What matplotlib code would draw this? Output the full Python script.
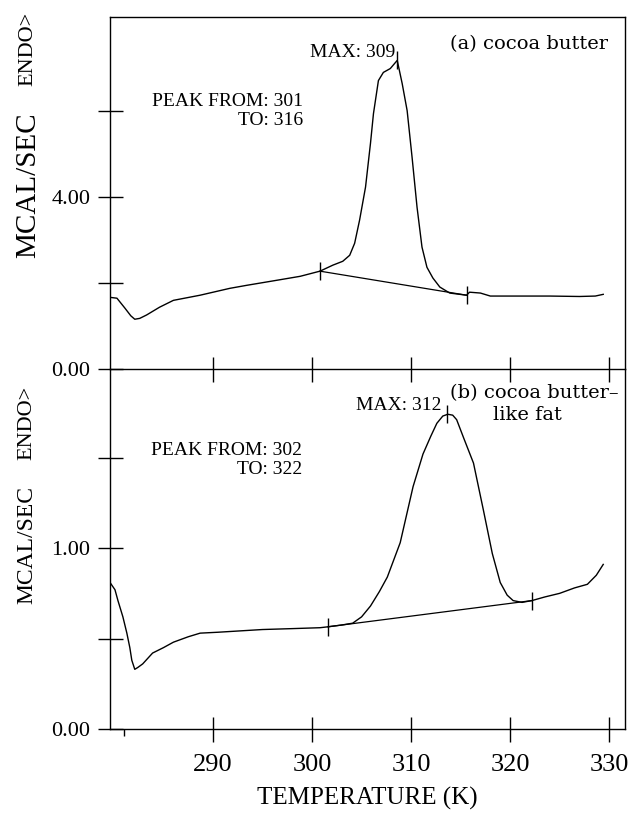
import numpy as np
import matplotlib
matplotlib.use('Agg')
import matplotlib.pyplot as plt

# (a) cocoa butter, DSC trace
temp_a = [279.6, 280.3, 281.1, 281.7, 282.1, 282.6, 283.3, 284.6, 286.0, 288.7,
          291.7, 293.4, 296.5, 298.8, 300.8, 302.1, 303.1, 303.8, 304.3, 304.8,
          305.4, 305.9, 306.2, 306.7, 307.2, 307.9, 308.6, 309.1, 309.6, 310.1,
          310.6, 311.1, 311.6, 312.2, 312.9, 313.9, 315.6, 315.9, 317.0, 318.0,
          321.0, 324.0, 327.0, 328.6, 329.4]
heat_a = [1.67, 1.65, 1.42, 1.24, 1.16, 1.18, 1.26, 1.44, 1.60, 1.72,
          1.88, 1.95, 2.07, 2.16, 2.28, 2.42, 2.51, 2.65, 2.93, 3.47,
          4.24, 5.26, 5.95, 6.72, 6.91, 7.00, 7.19, 6.65, 6.02, 4.93,
          3.77, 2.84, 2.37, 2.12, 1.91, 1.77, 1.72, 1.79, 1.77, 1.70,
          1.70, 1.70, 1.69, 1.70, 1.74]
peak_a = (300.8, 2.28, 315.6, 1.72)   # baseline start T, y, end T, y
max_a = (308.6, 7.19)

# (b) cocoa butter-like fat
temp_b = [279.6, 280.1, 280.4, 280.9, 281.3, 281.6, 281.8, 282.1, 282.4, 282.9,
          283.9, 285.0, 286.0, 287.5, 288.7, 290.5, 292.0, 295.0, 298.0, 300.8,
          301.6, 303.0, 304.1, 305.0, 305.9, 306.8, 307.6, 308.9, 310.2, 311.2,
          312.0, 312.6, 313.2, 313.7, 314.2, 314.6, 315.3, 316.3, 317.3, 318.2,
          319.0, 319.7, 320.3, 321.2, 322.2, 323.5, 325.0, 326.5, 327.8, 328.7,
          329.4]
heat_b = [0.81, 0.77, 0.71, 0.62, 0.53, 0.45, 0.38, 0.33, 0.34, 0.36,
          0.42, 0.45, 0.48, 0.51, 0.53, 0.535, 0.54, 0.55, 0.555, 0.56,
          0.565, 0.575, 0.585, 0.62, 0.68, 0.76, 0.84, 1.03, 1.34, 1.52,
          1.62, 1.69, 1.73, 1.74, 1.735, 1.71, 1.61, 1.47, 1.21, 0.97,
          0.81, 0.74, 0.71, 0.70, 0.71, 0.73, 0.75, 0.78, 0.80, 0.85,
          0.91]
peak_b = (301.6, 0.565, 322.2, 0.71)
max_b = (313.6, 1.74)

x_ticks = [290, 300, 310, 320, 330]

plt.rcParams['font.family'] = 'Liberation Serif'

fig = plt.figure(figsize=(6.33, 8.15), dpi=100)
ax1 = fig.add_axes([0.1738, 0.5472, 0.8136, 0.4319])
ax2 = fig.add_axes([0.1738, 0.1055, 0.8136, 0.4417])
ax2.set_facecolor('none')

lw = 1.0
for ax, T, v, pk, mx in [(ax1, temp_a, heat_a, peak_a, max_a),
                         (ax2, temp_b, heat_b, peak_b, max_b)]:
    ax.plot(T, v, color='black', lw=lw)
    # integration baseline and its end markers
    ax.plot([pk[0], pk[2]], [pk[1], pk[3]], color='black', lw=0.9)
    ax.plot([pk[0], pk[2]], [pk[1], pk[3]], ls='none', marker='|',
            ms=13, mew=1.0, color='black')
    ax.plot([mx[0]], [mx[1]], ls='none', marker='|', ms=13, mew=1.0,
            color='black')
    ax.set_xlim(279.6, 331.6)
    ax.set_xticks(x_ticks)
    for s in ax.spines.values():
        s.set_linewidth(1.0)
    ax.tick_params(axis='both', direction='inout', length=18, width=1.0)

# top panel
ax1.set_ylim(0, 8.2)
ax1.set_yticks([0, 2, 4, 6])
ax1.set_yticklabels(['0.00', '', '4.00', ''], fontsize=16)
ax1.tick_params(axis='y', pad=5)
ax1.tick_params(axis='x', labelbottom=False)
ax1.text(308.4, 7.37, 'MAX: 309', ha='right', va='center', fontsize=14)
ax1.text(313.9, 7.58, '(a) cocoa butter', ha='left', va='center',
         fontsize=14, family='DejaVu Serif')
ax1.text(299.1, 6.01, 'PEAK FROM: 301\nTO: 316', ha='right', va='center',
         multialignment='right', fontsize=14, linespacing=1.15)

# bottom panel
ax2.set_ylim(0, 1.99)
ax2.set_yticks([0, 0.5, 1.0, 1.5])
ax2.set_yticklabels(['0.00', '', '1.00', ''], fontsize=16)
ax2.tick_params(axis='y', pad=5)
ax2.tick_params(axis='x', labelsize=19, pad=9)
ax2.set_xticks([281], minor=True)
ax2.tick_params(axis='x', which='minor', direction='out', length=5, width=1.0)
ax2.spines['top'].set_visible(False)
ax2.text(313.1, 1.79, 'MAX: 312', ha='right', va='center', fontsize=14)
ax2.text(313.9, 1.856, '(b) cocoa butter\u2013', ha='left', va='center',
         fontsize=14, family='DejaVu Serif')
ax2.text(318.3, 1.735, 'like fat', ha='left', va='center',
         fontsize=14, family='DejaVu Serif')
ax2.text(299.0, 1.486, 'PEAK FROM: 302\nTO: 322', ha='right', va='center',
         multialignment='right', fontsize=14, linespacing=1.15)
ax2.set_xlabel('TEMPERATURE (K)', fontsize=18, labelpad=8)

# rotated y labels
fig.text(28 / 633, 1 - 49 / 815, 'ENDO>', rotation=90, ha='center',
         va='center', fontsize=16)
fig.text(28 / 633, 1 - 185 / 815, 'MCAL/SEC', rotation=90, ha='center',
         va='center', fontsize=21)
fig.text(27 / 633, 1 - 423 / 815, 'ENDO>', rotation=90, ha='center',
         va='center', fontsize=16)
fig.text(27 / 633, 1 - 545 / 815, 'MCAL/SEC', rotation=90, ha='center',
         va='center', fontsize=17)

fig.savefig('out.png', dpi=100)
